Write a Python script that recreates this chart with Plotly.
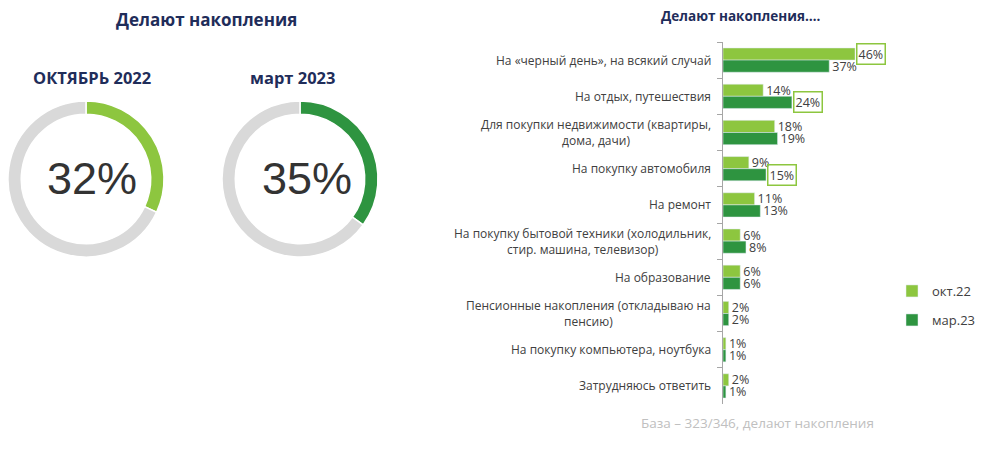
import plotly.graph_objects as go

# ---- data ----
donut_labels = ["ОКТЯБРЬ 2022", "март 2023"]
donut_values = [32, 35]

categories = [
    "На «черный день», на всякий случай",
    "На отдых, путешествия",
    "Для покупки недвижимости (квартиры,<br>дома, дачи)",
    "На покупку автомобиля",
    "На ремонт",
    "На покупку бытовой техники (холодильник,<br>стир. машина, телевизор)",
    "На образование",
    "Пенсионные накопления (откладываю на<br>пенсию)",
    "На покупку компьютера, ноутбука",
    "Затрудняюсь ответить",
]
series_names = ["окт.22", "мар.23"]
oct22 = [46, 14, 18, 9, 11, 6, 6, 2, 1, 2]
mar23 = [37, 24, 19, 15, 13, 8, 6, 2, 1, 1]
boxed_oct = [True, False, False, False, False, False, False, False, False, False]
boxed_mar = [False, True, False, True, False, False, False, False, False, False]

LIGHT = "#8DC63F"
DARK = "#2E9440"
GREY_RING = "#D9D9D9"
NAVY = "#1F2D5A"
TXT = "#404040"
FONT = "Open Sans"

OFF = 8
W, H = 1000 - OFF, 450 - OFF


def PX(x):
    return (x - OFF) / W


def PY(y):
    return 1 - (y - OFF) / H


fig = go.Figure()

# ---- donuts ----
donut_cols = [LIGHT, DARK]
donut_cx = [86, 300]
num_cx = [92, 307]
R = 78
CY = 179
for i, (lab, val) in enumerate(zip(donut_labels, donut_values)):
    cx = donut_cx[i]
    fig.add_trace(go.Pie(
        values=[val, 100 - val],
        labels=["да", "нет"],
        hole=0.83,
        sort=False,
        direction="clockwise",
        rotation=0,
        marker=dict(colors=[donut_cols[i], GREY_RING], line=dict(color="white", width=1.5)),
        textinfo="none",
        hoverinfo="skip",
        showlegend=False,
        domain=dict(x=[PX(cx - R), PX(cx + R)], y=[PY(CY + R), PY(CY - R)]),
    ))
    fig.add_annotation(x=PX(num_cx[i]), y=PY(CY), xref="paper", yref="paper",
                       xanchor="center", yanchor="middle",
                       text=f"{val}%", showarrow=False,
                       font=dict(family="Liberation Sans", size=45, color="#333333"))
    fig.add_annotation(x=PX(92 if i == 0 else 293), y=PY(77), xref="paper", yref="paper",
                       xanchor="center", yanchor="middle",
                       text=f"<b>{lab}</b>", showarrow=False,
                       font=dict(family=FONT, size=16.5, color=NAVY))

fig.add_annotation(x=PX(206), y=PY(19), xref="paper", yref="paper",
                   xanchor="center", yanchor="middle",
                   text="<b>Делают накопления</b>", showarrow=False,
                   font=dict(family=FONT, size=17, color=NAVY))
fig.add_annotation(x=PX(740), y=PY(16), xref="paper", yref="paper",
                   xanchor="center", yanchor="middle",
                   text="<b>Делают накопления….</b>", showarrow=False,
                   font=dict(family=FONT, size=13.5, color=NAVY))

# ---- bars ----
def texts(vals, boxed):
    return [("" if b else f"{v}%") for v, b in zip(vals, boxed)]


VFONT = dict(family=FONT, size=12.5, color=TXT)

fig.add_trace(go.Bar(
    y=categories, x=oct22, orientation="h", name=series_names[0],
    marker=dict(color=LIGHT), text=texts(oct22, boxed_oct),
    textposition="outside", cliponaxis=False, textfont=VFONT,
    constraintext="none", legend="legend",
))
fig.add_trace(go.Bar(
    y=categories, x=mar23, orientation="h", name=series_names[1],
    marker=dict(color=DARK), text=texts(mar23, boxed_mar),
    textposition="outside", cliponaxis=False, textfont=VFONT,
    constraintext="none", legend="legend2",
))

for vals, boxed, shift in ((oct22, boxed_oct, 6), (mar23, boxed_mar, -6)):
    for cat, v, b in zip(categories, vals, boxed):
        if b:
            fig.add_annotation(x=v, y=cat, xref="x", yref="y", yshift=shift,
                               xanchor="left", yanchor="middle", xshift=1,
                               text=f"{v}%", showarrow=False,
                               bordercolor=LIGHT, borderwidth=1.5, borderpad=1,
                               font=VFONT)

for cat in categories:
    fig.add_annotation(x=0, y=cat, xref="x", yref="y", xanchor="right", yanchor="middle",
                       xshift=-10, text=cat, showarrow=False, align="center",
                       font=dict(family=FONT, size=12, color=TXT))

fig.add_annotation(x=PX(757), y=PY(423), xref="paper", yref="paper",
                   xanchor="center", yanchor="middle",
                   text="База – 323/346, делают накопления", showarrow=False,
                   font=dict(family=FONT, size=13.5, color="#C0C0C0"))

fig.update_layout(
    width=W, height=H,
    margin=dict(l=0, r=0, t=0, b=0),
    paper_bgcolor="white", plot_bgcolor="white",
    barmode="group", bargap=0.33, bargroupgap=0,
    font=dict(family=FONT, color=TXT),
    xaxis=dict(domain=[PX(723), PX(990)], range=[0, 93], visible=False),
    yaxis=dict(domain=[PY(404), PY(42)], autorange="reversed",
               type="category", showticklabels=False, ticks="outside",
               tickson="boundaries", ticklen=5, tickcolor="#A6A6A6",
               showline=True, linecolor="#A6A6A6", linewidth=1, showgrid=False),
    legend=dict(x=PX(892), y=PY(291), xanchor="left", yanchor="middle",
                font=dict(family=FONT, size=13, color=TXT), bgcolor="rgba(0,0,0,0)",
                itemwidth=30),
    legend2=dict(x=PX(892), y=PY(320), xanchor="left", yanchor="middle",
                 font=dict(family=FONT, size=13, color=TXT), bgcolor="rgba(0,0,0,0)",
                 itemwidth=30),
    showlegend=True,
)

fig.write_html("out.html")
